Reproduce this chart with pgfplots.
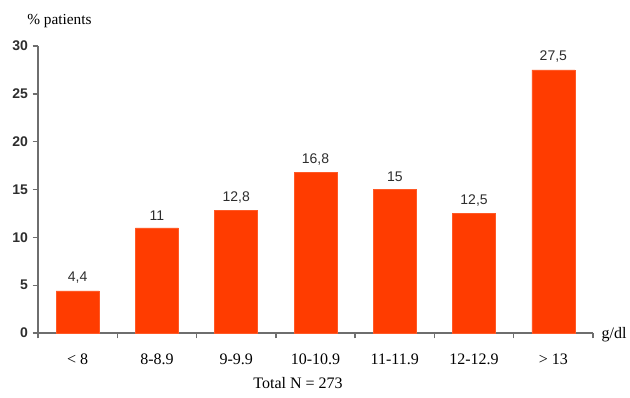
\documentclass[border=0pt]{standalone}
\usepackage{fontspec}
\setmainfont{Liberation Serif}
\newfontfamily\arial{Liberation Sans}
\usepackage{pgfplots}
\pgfplotsset{compat=1.18}
\definecolor{barred}{RGB}{255,60,0}
\definecolor{axgray}{RGB}{110,110,110}
\definecolor{txtgray}{RGB}{45,45,45}
\begin{document}
\begin{tikzpicture}
\begin{axis}[
  name=ax,
  scale only axis,
  width=416.25pt, height=215.25pt,
  xmin=-0.5, xmax=6.5, ymin=0, ymax=30,
  /pgf/number format/assume math mode=true,
  axis x line=bottom, axis y line=left,
  axis line style={axgray, line width=1.2pt, -},
  ytick={0,5,...,30},
  yticklabel style={font=\arial\bfseries\fontsize{10.5}{12}\selectfont, text=txtgray},
  xtick={0,...,6},
  xticklabels={{< 8},8-8.9,9-9.9,10-10.9,11-11.9,12-12.9,{> 13}},
  xticklabel style={font=\fontsize{12}{14}\selectfont, text=black, yshift=-8pt},
  minor xtick={-0.5,0.5,...,6.5},
  major x tick style={draw=none},
  minor x tick style={axgray, line width=1pt},
  y tick style={axgray, line width=1pt},
  tick align=outside,
  major tick length=4pt, minor tick length=4pt,
  ybar, bar width=32.25pt,
  nodes near coords,
  every node near coord/.append style={font=\arial\fontsize{10.5}{12}\selectfont, text=txtgray, /pgf/number format/use comma, /pgf/number format/assume math mode=true, yshift=2pt},
  clip=false,
]
\addplot[fill=barred, draw=barred!85!white, line width=0.4pt] coordinates {
(0,4.4) (1,11) (2,12.8) (3,16.8) (4,15) (5,12.5) (6,27.5)};
\node[font=\fontsize{11.5}{13}\selectfont] at (axis cs:-0.23,32.6) {\% patients};
\node[font=\fontsize{12}{14}\selectfont, anchor=west] at (axis cs:6.55,-0.2) {g/dl};
\node[font=\fontsize{12}{14}\selectfont] at (axis cs:2.78,-5.2) {Total N = 273};
\end{axis}
\pgfresetboundingbox
\path (ax.south west) ++(-28.5pt,-48pt) rectangle ++(472.5pt,297.75pt);
\end{tikzpicture}
\end{document}
